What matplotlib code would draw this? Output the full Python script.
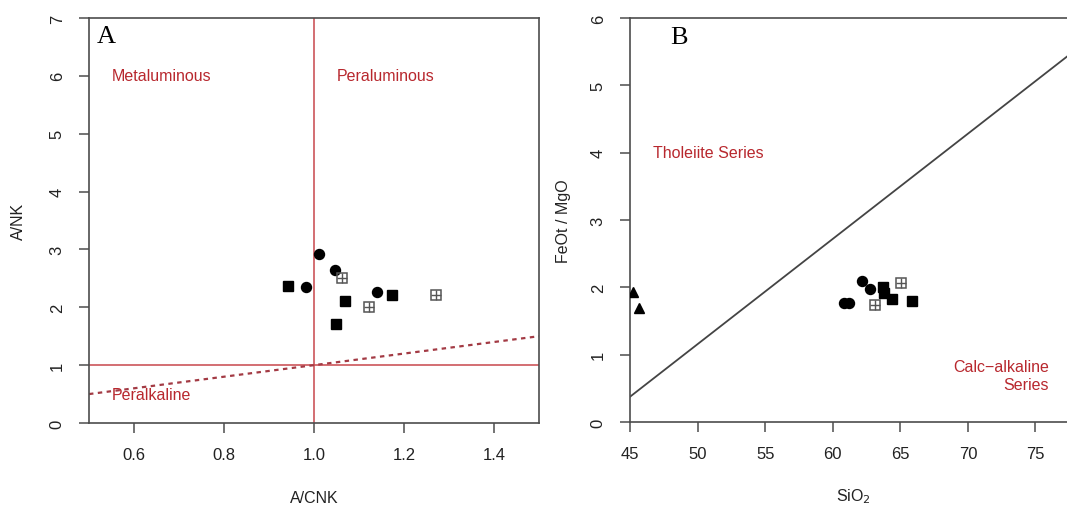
import matplotlib.pyplot as plt
import numpy as np

plt.rcParams['font.family'] = ['Liberation Sans', 'DejaVu Sans']

# A/CNK vs A/NK (Shand index)
acnk_sq = [0.942, 1.069, 1.049, 1.173]
ank_sq = [2.37, 2.11, 1.71, 2.22]
acnk_ci = [0.982, 1.010, 1.047, 1.141]
ank_ci = [2.345, 2.92, 2.64, 2.26]
acnk_bx = [1.063, 1.123, 1.271]
ank_bx = [2.51, 2.01, 2.22]

# SiO2 vs FeOt/MgO
sio2_sq = [63.72, 63.76, 64.39, 65.87]
fem_sq = [2.00, 1.91, 1.83, 1.79]
sio2_ci = [60.80, 61.17, 62.16, 62.73]
fem_ci = [1.76, 1.76, 2.09, 1.98]
sio2_bx = [65.05, 63.15]
fem_bx = [2.07, 1.74]
sio2_tri = [45.25, 45.69]
fem_tri = [1.93, 1.69]

# Miyashiro (1974) tholeiite / calc-alkaline divide
MIY_X0 = 42.6
MIY_SLOPE = 6.4

RED = '#b8282e'
LINE_RED = '#c8474b'
GREY = '#4d4d4d'

W, H = 1067, 506
fig = plt.figure(figsize=(W / 100, H / 100), dpi=100)
axA = fig.add_axes([89 / W, 1 - 424 / H, 450 / W, 405 / H])
axB = fig.add_axes([630 / W, 1 - 423 / H, 446 / W, 404 / H])


def style(ax):
    for s in ax.spines.values():
        s.set_color(GREY)
        s.set_linewidth(1.2)
    ax.tick_params(color=GREY, length=7.5, width=1.1, labelsize=12,
                   labelcolor='#222222', pad=10)
    for lab in ax.get_yticklabels():
        lab.set_rotation(90)
        lab.set_va('center')


def markers(ax, xs_sq, ys_sq, xs_ci, ys_ci, xs_bx, ys_bx):
    ax.plot(xs_sq, ys_sq, 's', color='black', ms=7.2, zorder=3)
    ax.plot(xs_ci, ys_ci, 'o', color='black', ms=7.2, zorder=3)
    ax.plot(xs_bx, ys_bx, 's', mfc='none', mec='#555555', mew=1.1, ms=6.5, zorder=3)
    ax.plot(xs_bx, ys_bx, '+', color='#555555', mew=1.0, ms=6.5, zorder=3)


# ---- panel A ----
axA.set_xlim(0.5, 1.5)
axA.set_ylim(0, 7)
axA.axvline(1.0, color=LINE_RED, lw=1.1, zorder=1)
axA.axhline(1.0, color=LINE_RED, lw=1.1, zorder=1)
xx = np.array(axA.get_xlim())
axA.plot(xx, xx, color='#a33a44', lw=1.6, ls=(0, (2, 2)), zorder=1)
markers(axA, acnk_sq, ank_sq, acnk_ci, ank_ci, acnk_bx, ank_bx)
axA.set_xticks([0.6, 0.8, 1.0, 1.2, 1.4])
axA.set_xticklabels(['0.6', '0.8', '1.0', '1.2', '1.4'])
axA.set_yticks(range(0, 8))
style(axA)
axA.text(0.55, 6, 'Metaluminous', color=RED, fontsize=11.5, va='center')
axA.text(1.05, 6, 'Peraluminous', color=RED, fontsize=11.5, va='center')
axA.text(0.55, 0.5, 'Peralkaline', color=RED, fontsize=11.5, va='center')
axA.text(0.018, 0.982, 'A', transform=axA.transAxes, ha='left', va='top',
         fontsize=19, family='Liberation Serif')
axA.set_xlabel('A/CNK', fontsize=11.5, color='#222222')
axA.set_ylabel('A/NK', fontsize=11.5, color='#222222')
axA.xaxis.set_label_coords(0.5, -0.183)
axA.xaxis.label.set_va('center')
axA.yaxis.set_label_coords(-0.156, 0.5)
axA.yaxis.label.set_va('center')

# ---- panel B ----
axB.set_xlim(45, 78)
axB.set_ylim(0, 6)
sx = np.array([45, 78])
axB.plot(sx, (sx - MIY_X0) / MIY_SLOPE, color='#444444', lw=1.3, zorder=1)
markers(axB, sio2_sq, fem_sq, sio2_ci, fem_ci, sio2_bx, fem_bx)
axB.plot(sio2_tri, fem_tri, '^', color='black', ms=7.5, zorder=3)
axB.set_xticks(range(45, 80, 5))
axB.set_yticks(range(0, 7))
style(axB)
axB.text(46.7, 4.0, 'Tholeiite Series', color=RED, fontsize=11.5, va='center')
axB.text(76.0, 0.69, 'Calc\u2212alkaline\nSeries', color=RED, fontsize=11.5,
         ha='right', va='center', multialignment='right', linespacing=1.2)
axB.text(0.09, 0.98, 'B', transform=axB.transAxes, ha='left', va='top',
         fontsize=19, family='Liberation Serif')
axB.set_xlabel('SiO$_2$', fontsize=11.5, color='#222222')
axB.set_ylabel('FeOt / MgO', fontsize=11.5, color='#222222')
axB.xaxis.set_label_coords(0.5, -0.183)
axB.xaxis.label.set_va('center')
axB.yaxis.set_label_coords(-0.15, 0.5)
axB.yaxis.label.set_va('center')

fig.savefig('out.png', dpi=100)
